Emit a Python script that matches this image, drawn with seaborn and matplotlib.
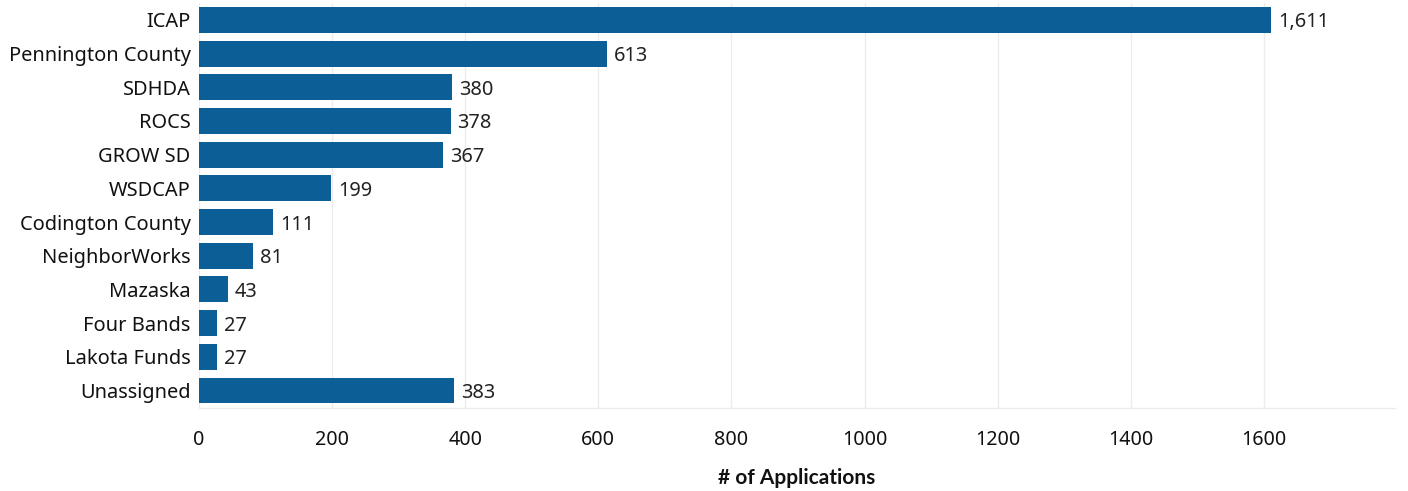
import matplotlib
matplotlib.use("Agg")
import matplotlib.pyplot as plt
import seaborn as sns
import pandas as pd

categories = ["ICAP", "Pennington County", "SDHDA", "ROCS", "GROW SD", "WSDCAP",
              "Codington County", "NeighborWorks", "Mazaska", "Four Bands",
              "Lakota Funds", "Unassigned"]
values = [1611, 613, 380, 378, 367, 199, 111, 81, 43, 27, 27, 383]
xticks = [0, 200, 400, 600, 800, 1000, 1200, 1400, 1600]

df = pd.DataFrame({"org": categories, "n": values})

sns.set_theme(style="white")
plt.rcParams["font.family"] = ["Noto Sans", "DejaVu Sans"]

fig = plt.figure(figsize=(14.08, 4.91), dpi=100)
ax = fig.add_axes([199/1408, 1 - 408/491, (1395-199)/1408, (408-3)/491])

bar_color = "#0B5E96"
sns.barplot(data=df, y="org", x="n", color=bar_color, orient="h",
            width=0.77, ax=ax, saturation=1, linewidth=0)

ax.set_xlim(0, 1797)
ax.set_ylim(len(categories) - 0.5 + 0.02, -0.5)
ax.set_xticks(xticks)
ax.set_xticklabels([str(t) for t in xticks], fontsize=14.2, color="#111111")
ax.tick_params(axis="x", direction="out", length=6.5, width=1, color="#ececec", pad=9)
ax.tick_params(axis="y", length=0, pad=6, labelcolor="#111111")
for t in ax.get_yticklabels():
    t.set_fontsize(14.4)
ax.grid(axis="x", color="#ececec", linewidth=1)
ax.set_axisbelow(True)
for s in ["top", "right", "left"]:
    ax.spines[s].set_visible(False)
ax.spines["bottom"].set_color("#ececec")
ax.spines["bottom"].set_linewidth(1)

for c in ax.containers:
    texts = ax.bar_label(c, labels=[f"{v:,}" for v in values], padding=5,
                         fontsize=14.4, color="#222222")
    for t in texts:
        t.set_verticalalignment("center_baseline")

ax.set_ylabel("")
ax.set_xlabel("# of Applications", fontsize=15, fontweight="bold", labelpad=13,
              color="#111111", family=["Lato", "DejaVu Sans"])

fig.savefig("out.png", dpi=100)
